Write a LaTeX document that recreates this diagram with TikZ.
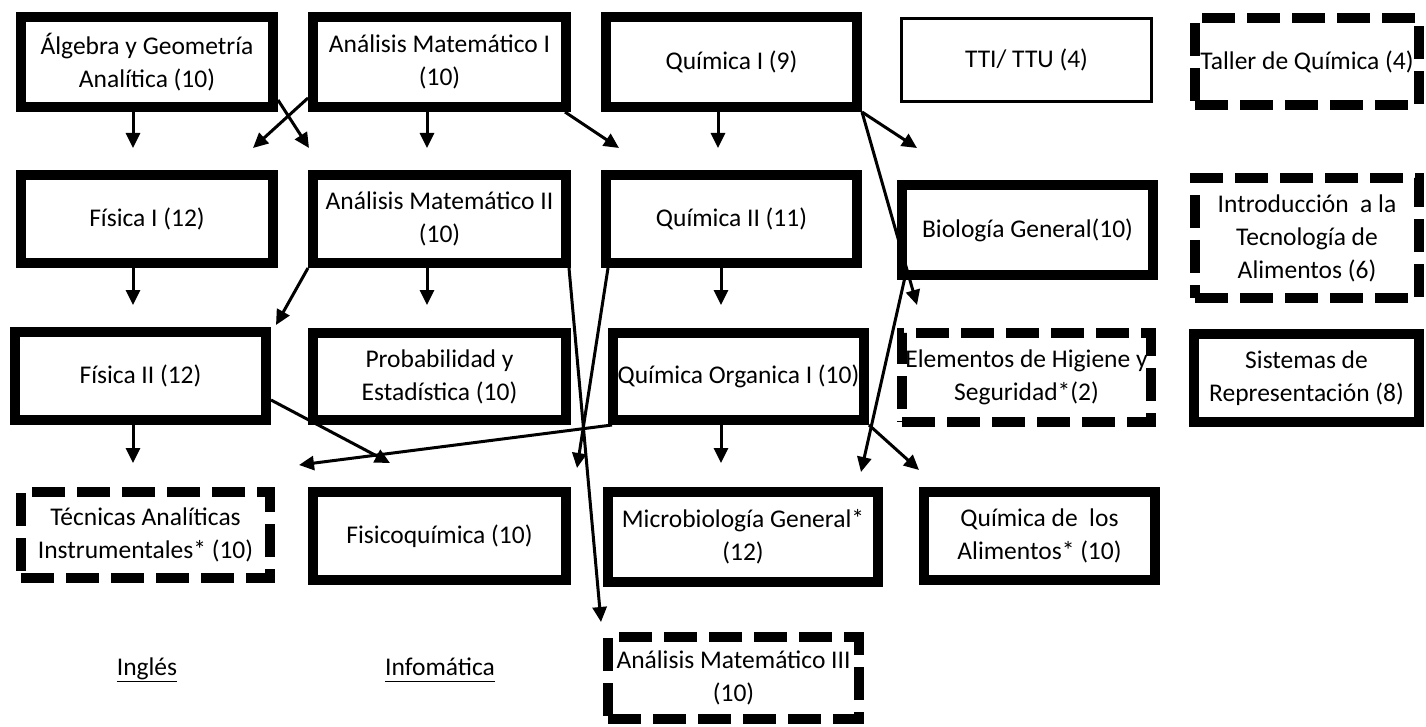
\documentclass[tikz,border=0pt]{standalone}
\usepackage{fontspec}
\setmainfont{Carlito}
\usetikzlibrary{arrows.meta,calc}
\tikzset{
  x=1pt,y=-1pt,
  base/.style={rectangle,inner sep=0pt,align=center,font=\fontsize{25.5}{33}\selectfont},
  thickbox/.style={base,draw,line width=10pt},
  thinbox/.style={base,draw,line width=3pt},
  dashbox/.style={base,draw,line width=10pt,dash pattern=on 33pt off 12pt},
  plain/.style={base,anchor=base},
  arr/.style={line width=3pt,-{Triangle[length=15pt,width=14pt]}}
}
\begin{document}
\begin{tikzpicture}
\fill[white] (0,0) rectangle (1426,727);
\useasboundingbox (0,0) rectangle (1426,727);
% row 1
\node[thickbox,minimum width=252,minimum height=90] (alg) at (147,62) {Álgebra y Geometría\\Analítica (10)};
\node[thickbox,minimum width=253,minimum height=90] (am1) at (439.5,62) {Análisis Matemático I\\(10)};
\node[thickbox,minimum width=251,minimum height=90] (q1) at (731.5,62) {Química I (9)};
\node[thinbox,minimum width=250,minimum height=83] (tti) at (1026.5,60) {TTI/ TTU (4)};
\node[dashbox,minimum width=224,minimum height=87] (taller) at (1307,61.5) {Taller de Química (4)};
% row 2
\node[thickbox,minimum width=252,minimum height=88] (fis1) at (147,219) {Física I (12)};
\node[thickbox,minimum width=253,minimum height=88] (am2) at (439.5,219) {Análisis Matemático II\\(10)};
\node[thickbox,minimum width=251,minimum height=88] (q2) at (731.5,219) {Química II (11)};
\node[thickbox,minimum width=251,minimum height=90] (bio) at (1027.5,230) {Biología General(10)};
\node[dashbox,minimum width=224,minimum height=120] (intro) at (1307,238) {Introducción~~a la\\Tecnología de\\Alimentos (6)};
% row 3
\node[thickbox,minimum width=251,minimum height=88] (fis2) at (140.5,376) {Física II (12)};
\node[thickbox,minimum width=253,minimum height=87] (prob) at (439.5,376.5) {Probabilidad y\\Estadística (10)};
\node[thickbox,minimum width=251,minimum height=87] (qorg) at (738.5,376.5) {Química Organica I (10)};
\node[dashbox,minimum width=249,minimum height=89] (elem) at (1026.5,377.5) {Elementos de Higiene y\\Seguridad*(2)};
\node[thickbox,minimum width=225,minimum height=88] (sist) at (1306.5,378) {Sistemas de\\Representación (8)};
% row 4
\node[dashbox,minimum width=249,minimum height=86] (tec) at (145.5,535) {Técnicas Analíticas\\Instrumentales* (10)};
\node[thickbox,minimum width=253,minimum height=88] (fisq) at (439.5,536) {Fisicoquímica (10)};
\node[thickbox,minimum width=270,minimum height=90] (micro) at (743,537) {Microbiología General*\\(12)};
\node[thickbox,minimum width=231,minimum height=88] (qda) at (1039.5,536) {Química de~~los\\Alimentos* (10)};
% row 5
\node[dashbox,minimum width=251,minimum height=82] (am3) at (733.5,678) {Análisis Matemático III\\(10)};
\node[plain] (ingles) at (147,675) {\underline{Inglés}};
\node[plain] (info) at (440,675) {\underline{\vphantom{g}Infomática}};
% arrows
\draw[arr] ($(alg.south)+(-14,0)$) -- ($(fis1.north)+(-14,-22)$);
\draw[arr] ($(am1.south west)+(0,-14)$) -- ($(fis1.north east)+(-25,-22)$);
\draw[arr] ($(alg.south east)+(0,-12)$) -- ($(am2.north west)+(1,-22)$);
\draw[arr] ($(am1.south)+(-12.5,0)$) -- ($(am2.north)+(-12.5,-22)$);
\draw[arr] ($(am1.south east)+(-6,0)$) -- ($(q2.north west)+(18,-22)$);
\draw[arr] ($(q1.south)+(-13.5,0)$) -- ($(q2.north)+(-13.5,-22)$);
\draw[arr] (q1.south east) -- ($(bio.north west)+(20,-32)$);
\draw[arr] (q1.south east) -- ($(elem.north west)+(20,-23)$);
\draw[arr] ($(fis1.south)+(-14,0)$) -- ($(fis2.north)+(-7.5,-22)$);
\draw[arr] (am2.south west) -- ($(fis2.north east)+(5,-2)$);
\draw[arr] ($(am2.south)+(-12.5,0)$) -- ($(prob.north)+(-12.5,-23)$);
\draw[arr] ($(am2.south east)+(-2,0)$) -- ($(am3.north west)+(-2,-10)$);
\draw[arr] ($(q2.south west)+(7,0)$) -- ($(fisq.north east)+(6,-19)$);
\draw[arr] ($(q2.south)+(-10.5,0)$) -- ($(qorg.north)+(-17.5,-23)$);
\draw[arr] ($(bio.south west)+(8,-3)$) -- ($(micro.north east)+(-22,-15)$);
\draw[arr] ($(fis2.south)+(-7.5,0)$) -- ($(tec.north)+(-12.5,-24)$);
\draw[arr] ($(fis2.east)+(0,24)$) -- ($(fisq.north west)+(82,-24)$);
\draw[arr] ($(qorg.south west)+(4,0)$) -- ($(tec.north east)+(24,-22)$);
\draw[arr] ($(qorg.south)+(-17.5,0)$) -- ($(micro.north)+(-22,-24)$);
\draw[arr] (qorg.south east) -- ($(qda.north west)+(0,-17)$);
\end{tikzpicture}
\end{document}
